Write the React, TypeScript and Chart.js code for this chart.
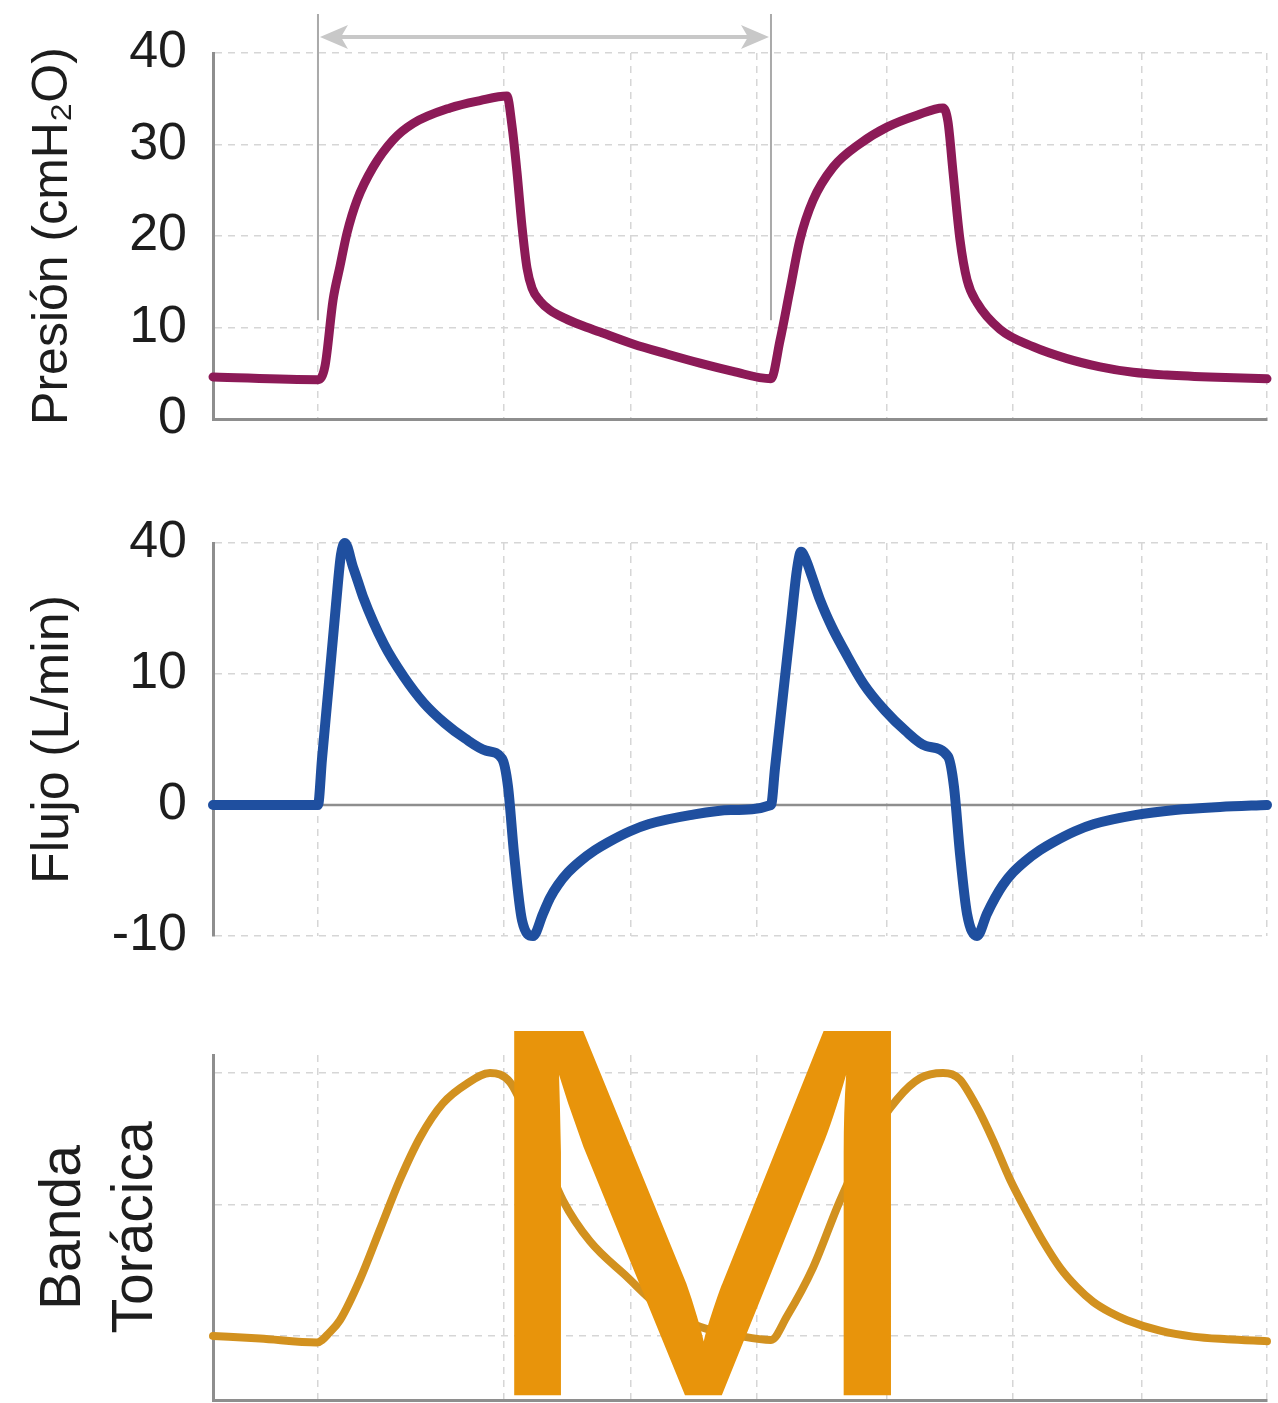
import React, { useEffect, useRef } from "react";
import { Chart, registerables } from "chart.js";

Chart.register(...registerables);

const FONT_FAMILY = "'Liberation Sans', Arial, Helvetica, sans-serif";
const TEXT_COLOR = "#1d1d1d";
const AXIS_COLOR = "#8e8e8e";
const GRID_COLOR = "#d6d6d6";

// Time axis: position in % of the recording window
const X_MIN = 0;
const X_MAX = 100;
const X_GRID = [9.96, 27.6, 39.66, 51.6, 63.95, 75.9, 88.1, 100];

// Start of the two ventilator cycles (marked with the arrow in the pressure panel)
const CYCLE_MARKERS = [9.96, 52.94];

// Pressure (cmH2O)
const PRESSURE_TICKS = [0, 10, 20, 30, 40];
const PRESSURE_TIME = [
  0, 9.96, 10.63, 11.39, 12.05, 12.71, 13.66, 15.18, 17.08, 18.98, 22.49, 25.33, 27.89,
  28.37, 28.84, 29.32, 29.79, 30.27, 31.02, 31.97, 33.4, 34.82, 36.72, 39.85, 43.07, 46.2,
  49.34, 52.94,
  53.8, 54.74, 55.69, 56.93, 58.82, 61.39, 63.95, 66.79, 69.26,
  69.73, 70.21, 70.87, 71.54, 72.49, 74.67, 77.8, 81.02, 84.16, 87.29, 90.51, 95.26, 100,
];
const PRESSURE_VALUES = [
  4.6, 4.3, 5.8, 13.0, 16.7, 20.3, 23.9, 27.5, 30.5, 32.3, 34.0, 34.8, 35.3,
  32.0, 27.0, 21.0, 16.5, 14.3, 12.9, 11.9, 11.0, 10.3, 9.5, 8.2, 7.1, 6.1,
  5.2, 4.4,
  8.6, 14.1, 19.6, 23.9, 27.5, 30.1, 31.9, 33.2, 34.0,
  32.5, 27.0, 19.6, 15.2, 12.7, 9.8, 7.9, 6.6, 5.7, 5.1, 4.8, 4.55, 4.4,
];

// Flow (L/min) – the axis is drawn with equally spaced ticks -10, 0, 10, 40
const FLOW_TICK_VALUES = [-10, 0, 10, 40];
const FLOW_TIME = [
  0, 9.96, 10.34, 11.01, 11.67, 12.14, 12.52, 13.28, 13.76, 14.23, 16.22, 18.12, 20.02,
  22.01, 23.91, 25.9, 27.42, 27.99, 28.56, 29.32, 30.36, 31.31, 31.97, 32.73, 33.68,
  34.82, 36.24, 37.48, 39.56, 41.37, 45.26, 49.15, 52.94,
  53.32, 54.08, 54.84, 55.41, 55.79, 56.26, 56.83, 57.59, 58.73, 59.87, 61.76, 63.76,
  65.65, 67.65, 69.73, 70.3, 70.87, 71.54, 72.49, 73.43, 74.19, 74.95, 75.9, 77.04,
  78.46, 79.7, 81.78, 83.59, 87.48, 91.27, 95.54, 100,
];
const FLOW_VALUES = [
  0, 0, 3.5, 9.4, 25.9, 37.3, 40, 34.5, 31.1, 27.7, 16.8, 9.77, 7.77,
  6.23, 5.08, 4.15, 3.54, 1.4, -3.7, -8.8, -10, -8.3, -7.1, -6.1, -5.15,
  -4.3, -3.45, -2.85, -2.0, -1.45, -0.77, -0.38, 0,
  2.8, 8.4, 21.8, 34, 38, 36.1, 32.3, 27.0, 20.7, 15.5, 9.2, 7.2,
  5.7, 4.5, 3.7, 1.4, -3.7, -8.3, -10, -8.3, -7.1, -6.1, -5.15, -4.3,
  -3.45, -2.85, -2.0, -1.45, -0.77, -0.38, -0.15, 0,
];

// Thoracic band (arbitrary units)
const BAND_GRID = [1, 2, 3];
const BAND_MIN = 0.513;
const BAND_MAX = 3.137;
const BAND_TIME = [
  0, 4.46, 9.87, 11.1, 12.05, 13.95, 15.84, 17.74, 19.64, 21.82, 24.1, 26.28, 28.18,
  30.08, 31.5, 33.21, 35.77, 39.28, 42.41, 46.2, 50.0, 52.94, 54.46, 56.93, 59.49,
  62.33, 64.9, 67.08, 69.26, 70.11, 70.87, 72.49, 74.0, 75.62, 77.23, 78.75, 80.36,
  81.97, 83.49, 85.1, 86.72, 89.85, 92.98, 96.2, 100,
];
const BAND_VALUES = [
  1.0, 0.98, 0.95, 1.03, 1.12, 1.43, 1.81, 2.19, 2.51, 2.77, 2.92, 3.0, 2.93,
  2.62, 2.35, 2.03, 1.72, 1.45, 1.22, 1.07, 1.0, 0.97, 1.15, 1.52, 2.03,
  2.5, 2.8, 2.96, 3.0, 2.99, 2.95, 2.74, 2.49, 2.19, 1.94, 1.72, 1.52,
  1.37, 1.26, 1.18, 1.12, 1.04, 0.995, 0.975, 0.96,
];

const PRESSURE_COLOR = "#8c1a57";
const FLOW_COLOR = "#1f4f9f";
const BAND_COLOR = "#d2911f";
const WATERMARK_COLOR = "#e8940b";

function flowToAxis(v: number): number {
  const t = FLOW_TICK_VALUES;
  for (let i = 0; i < t.length - 1; i++) {
    if (v <= t[i + 1] || i === t.length - 2) {
      return i - 1 + (v - t[i]) / (t[i + 1] - t[i]);
    }
  }
  return 0;
}

function xAxis(borderDisplay: boolean) {
  return {
    type: "linear" as const,
    min: X_MIN,
    max: X_MAX,
    afterBuildTicks: (s: any) => {
      s.ticks = X_GRID.map((v) => ({ value: v }));
    },
    ticks: { display: false },
    grid: { color: GRID_COLOR, lineWidth: 1.5, drawTicks: false },
    border: { display: borderDisplay, color: AXIS_COLOR, width: 3, dash: [7, 6] },
  };
}

function lineDataset(xs: number[], ys: number[], color: string, width: number) {
  return {
    data: xs.map((x, i) => ({ x, y: ys[i] })),
    borderColor: color,
    borderWidth: width,
    pointRadius: 0,
    fill: false,
    clip: 8,
    cubicInterpolationMode: "monotone" as const,
    borderCapStyle: "round" as const,
    borderJoinStyle: "round" as const,
  };
}

const arrowPlugin = {
  id: "cycleArrow",
  afterDraw(chart: any) {
    const ctx = chart.ctx;
    const xs = chart.scales.x;
    const ys = chart.scales.y;
    const x1 = xs.getPixelForValue(CYCLE_MARKERS[0]);
    const x2 = xs.getPixelForValue(CYCLE_MARKERS[1]);
    const yTop = 14;
    const yBottom = ys.getPixelForValue(10.8);
    const yArrow = 37;
    ctx.save();
    ctx.strokeStyle = "#aaaaaa";
    ctx.lineWidth = 2;
    ctx.beginPath();
    ctx.moveTo(x1, yTop);
    ctx.lineTo(x1, yBottom);
    ctx.moveTo(x2, yTop);
    ctx.lineTo(x2, yBottom);
    ctx.stroke();
    ctx.strokeStyle = "#c8c8c8";
    ctx.fillStyle = "#c8c8c8";
    ctx.lineWidth = 4;
    ctx.beginPath();
    ctx.moveTo(x1 + 20, yArrow);
    ctx.lineTo(x2 - 20, yArrow);
    ctx.stroke();
    const head = 28;
    const half = 12;
    ctx.beginPath();
    ctx.moveTo(x1 + 2, yArrow);
    ctx.lineTo(x1 + 2 + head, yArrow - half);
    ctx.lineTo(x1 + 2 + head - 7, yArrow);
    ctx.lineTo(x1 + 2 + head, yArrow + half);
    ctx.closePath();
    ctx.fill();
    ctx.beginPath();
    ctx.moveTo(x2 - 2, yArrow);
    ctx.lineTo(x2 - 2 - head, yArrow - half);
    ctx.lineTo(x2 - 2 - head + 7, yArrow);
    ctx.lineTo(x2 - 2 - head, yArrow + half);
    ctx.closePath();
    ctx.fill();
    ctx.restore();
  },
};

const zeroLinePlugin = {
  id: "zeroLine",
  beforeDatasetsDraw(chart: any) {
    const ctx = chart.ctx;
    const y = chart.scales.y.getPixelForValue(flowToAxis(0));
    const { left, right } = chart.chartArea;
    ctx.save();
    ctx.strokeStyle = AXIS_COLOR;
    ctx.lineWidth = 2.5;
    ctx.beginPath();
    ctx.moveTo(left, y);
    ctx.lineTo(right, y);
    ctx.stroke();
    ctx.restore();
  },
};

// Big "M" watermark drawn over the thoracic band panel
const watermarkPlugin = {
  id: "watermark",
  afterDraw(chart: any) {
    const ctx = chart.ctx;
    const canvasTop = 970;
    const left = 512;
    const right = 895;
    const top = 1023;
    const squash = 0.94;
    ctx.save();
    ctx.font = `100px ${FONT_FAMILY}`;
    const m = ctx.measureText("M");
    const w = m.actualBoundingBoxLeft + m.actualBoundingBoxRight;
    const size = (100 * (right - left)) / w;
    ctx.font = `${size}px ${FONT_FAMILY}`;
    const m2 = ctx.measureText("M");
    ctx.translate(0, top - canvasTop);
    ctx.scale(1, squash);
    ctx.fillStyle = WATERMARK_COLOR;
    ctx.textBaseline = "alphabetic";
    ctx.textAlign = "left";
    ctx.fillText("M", left + m2.actualBoundingBoxLeft, m2.actualBoundingBoxAscent);
    ctx.restore();
  },
};

const Y_WIDTH = 213;

function yAxisCommon(title: any, titleSize: number, titlePad: number, showTicks: boolean) {
  return {
    afterFit: (s: any) => {
      s.width = Y_WIDTH;
    },
    ticks: {
      display: showTicks,
      color: TEXT_COLOR,
      font: { family: FONT_FAMILY, size: 52 },
      padding: 0,
    },
    grid: {
      color: GRID_COLOR,
      lineWidth: 1.5,
      drawTicks: true,
      tickLength: 26,
      tickColor: "rgba(0,0,0,0)",
    },
    border: { display: true, color: AXIS_COLOR, width: 3, dash: [7, 6] },
    title: {
      display: true,
      text: title,
      color: TEXT_COLOR,
      font: { family: FONT_FAMILY, size: titleSize, lineHeight: 1.25 },
      padding: { top: titlePad, bottom: 0 },
    },
  };
}

export default function App() {
  const refA = useRef<HTMLCanvasElement>(null);
  const refB = useRef<HTMLCanvasElement>(null);
  const refC = useRef<HTMLCanvasElement>(null);

  useEffect(() => {
    const common = {
      responsive: false,
      animation: false as const,
      devicePixelRatio: 1,
      events: [] as any[],
    };

    const chartA = new Chart(refA.current!, {
      type: "line",
      data: { datasets: [lineDataset(PRESSURE_TIME, PRESSURE_VALUES, PRESSURE_COLOR, 9)] },
      options: {
        ...common,
        layout: { padding: { top: 53, bottom: 51, left: 0, right: 11 } },
        plugins: { legend: { display: false }, tooltip: { enabled: false } },
        scales: {
          x: xAxis(true),
          y: {
            ...yAxisCommon("Presión (cmH₂O)", 50, 22, true),
            min: 0,
            max: 40,
            afterBuildTicks: (s: any) => {
              s.ticks = PRESSURE_TICKS.map((v) => ({ value: v }));
            },
          } as any,
        },
      },
      plugins: [arrowPlugin],
    });

    const chartB = new Chart(refB.current!, {
      type: "line",
      data: {
        datasets: [
          lineDataset(FLOW_TIME, FLOW_VALUES.map(flowToAxis), FLOW_COLOR, 10),
        ],
      },
      options: {
        ...common,
        layout: { padding: { top: 73, bottom: 34, left: 0, right: 11 } },
        plugins: { legend: { display: false }, tooltip: { enabled: false } },
        scales: {
          x: xAxis(false),
          y: (() => {
            const base: any = yAxisCommon("Flujo (L/min)", 52, 21, true);
            base.grid.color = (c: any) =>
              c.tick && c.tick.value === 0 ? "rgba(0,0,0,0)" : GRID_COLOR;
            base.ticks.callback = (v: any) => String(FLOW_TICK_VALUES[Math.round(v) + 1]);
            return {
              ...base,
              min: -1,
              max: 2,
              afterBuildTicks: (s: any) => {
                s.ticks = FLOW_TICK_VALUES.map((_, i) => ({ value: i - 1 }));
              },
            };
          })(),
        },
      },
      plugins: [zeroLinePlugin],
    });

    const chartC = new Chart(refC.current!, {
      type: "line",
      data: { datasets: [lineDataset(BAND_TIME, BAND_VALUES, BAND_COLOR, 8)] },
      options: {
        ...common,
        layout: { padding: { top: 85, bottom: 3, left: 0, right: 11 } },
        plugins: { legend: { display: false }, tooltip: { enabled: false } },
        scales: {
          x: xAxis(true),
          y: {
            ...yAxisCommon(["Banda", "Torácica"], 57, 29, false),
            min: BAND_MIN,
            max: BAND_MAX,
            afterBuildTicks: (s: any) => {
              s.ticks = BAND_GRID.map((v) => ({ value: v }));
            },
          } as any,
        },
      },
      plugins: [watermarkPlugin],
    });

    return () => {
      chartA.destroy();
      chartB.destroy();
      chartC.destroy();
    };
  }, []);

  return (
    <div
      style={{
        position: "absolute",
        left: 0,
        top: 0,
        width: 1278,
        height: 1403,
        background: "#ffffff",
        overflow: "hidden",
      }}
    >
      <canvas ref={refA} width={1278} height={470} style={{ position: "absolute", left: 0, top: 0 }} />
      <canvas ref={refB} width={1278} height={500} style={{ position: "absolute", left: 0, top: 470 }} />
      <canvas ref={refC} width={1278} height={433} style={{ position: "absolute", left: 0, top: 970 }} />
    </div>
  );
}
